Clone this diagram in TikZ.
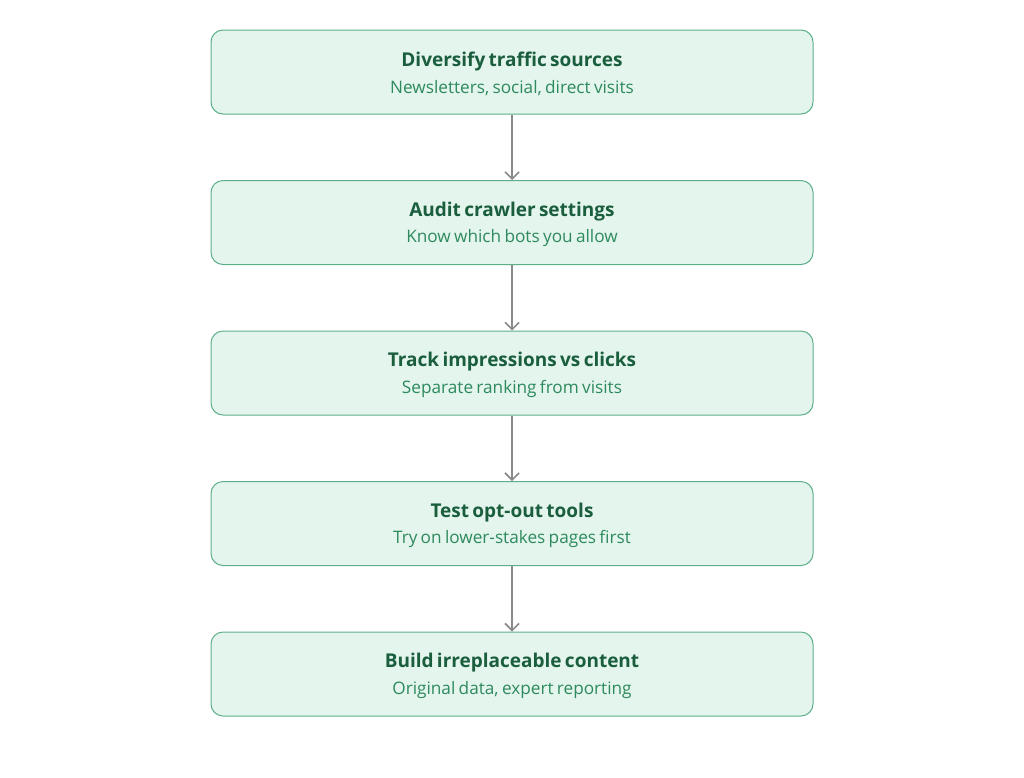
\documentclass[tikz,border=0pt]{standalone}
\usepackage{fontspec}
\setmainfont{Open Sans}
\usepackage{xcolor}
\usetikzlibrary{arrows.meta,positioning}
\definecolor{boxfill}{HTML}{E3F5EC}
\definecolor{boxline}{HTML}{5DAF8A}
\definecolor{titlecol}{HTML}{1A5E3E}
\definecolor{subcol}{HTML}{2E8A5E}
\definecolor{arrowcol}{HTML}{8A8A8A}
\newcommand{\steptext}[2]{{\color{titlecol}\fontsize{19}{23}\selectfont\bfseries\rule{0pt}{18pt}#1}\\[8pt]{\color{subcol}\fontsize{17.2}{21}\selectfont #2}}
\tikzset{%
	stepbox/.style = {draw=boxline, fill=boxfill, line width=1pt, rectangle, rounded corners=12pt, minimum width=602pt, minimum height=84pt, text width=590pt, align=center, inner sep=0pt},
	flow/.style    = {draw=arrowcol, line width=2pt, -{Straight Barb[length=7pt,width=14pt,line width=1.6pt]}},
}
\begin{document}
\begin{tikzpicture}[x=1pt,y=1pt,node distance=65.5pt]
		\useasboundingbox (0,0) rectangle (1024,-777);
		
		\node[stepbox] (s1) at (512,-72) {\steptext{Diversify traffic sources}{Newsletters, social, direct visits}};
		\node[stepbox, below=of s1] (s2) {\steptext{Audit crawler settings}{Know which bots you allow}};
		\node[stepbox, below=of s2] (s3) {\steptext{Track impressions vs clicks}{Separate ranking from visits}};
		\node[stepbox, below=of s3] (s4) {\steptext{Test opt-out tools}{Try on lower-stakes pages first}};
		\node[stepbox, below=of s4] (s5) {\steptext{Build irreplaceable content}{Original data, expert reporting}};
		
		\draw[flow] (s1) -- (s2);
		\draw[flow] (s2) -- (s3);
		\draw[flow] (s3) -- (s4);
		\draw[flow] (s4) -- (s5);
\end{tikzpicture}
\end{document}
